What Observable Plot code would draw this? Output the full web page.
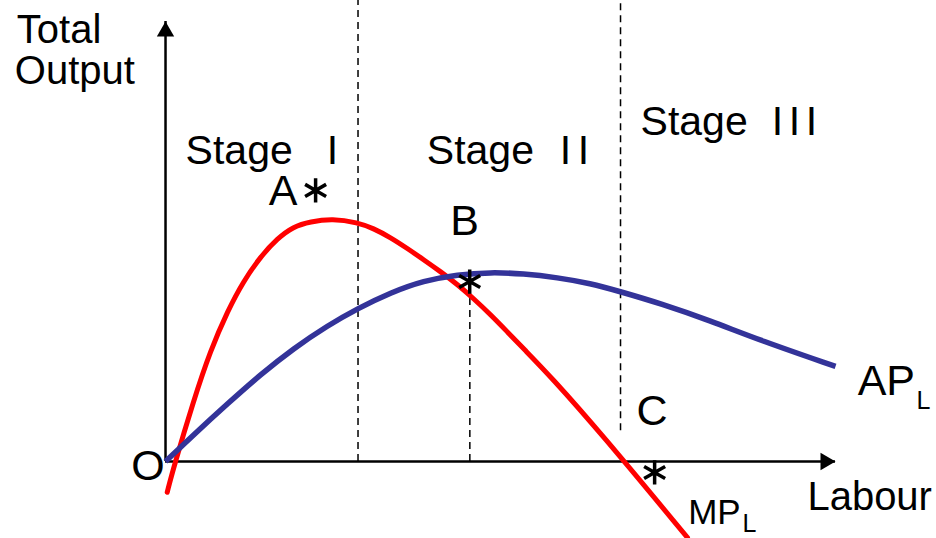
<!DOCTYPE html>
<html>
<head>
<meta charset="utf-8">
<script src="https://cdn.jsdelivr.net/npm/d3@7"></script>
<script src="https://cdn.jsdelivr.net/npm/@observablehq/plot@0.6"></script>
<style>
  html, body { margin: 0; padding: 0; background: #fff; }
</style>
</head>
<body>
<div id="chart"></div>
<script>
// Marginal product of labour (MP_L)
const mpX = [0.025, 0.12, 0.42, 0.67, 0.93, 1.16, 1.42, 1.67, 1.91, 2.16, 2.49, 2.87, 3.10, 3.36, 3.61, 3.85, 4.10, 4.36, 4.60, 4.85, 5.10, 5.34, 5.75, 6.49, 7.79];
const mpY = [-0.70, -0.14, 1.39, 2.52, 3.43, 4.09, 4.66, 5.07, 5.34, 5.45, 5.52, 5.43, 5.30, 5.09, 4.84, 4.59, 4.32, 4.02, 3.70, 3.34, 2.95, 2.57, 1.93, 0.66, -1.73];

// Average product of labour (AP_L)
const apX = [0, 0.42, 0.93, 1.42, 1.91, 2.42, 2.87, 3.36, 3.85, 4.36, 4.85, 5.34, 5.85, 6.34, 6.79, 7.39, 8.13, 8.88, 10.0];
const apY = [0, 0.61, 1.32, 1.98, 2.57, 3.09, 3.48, 3.84, 4.11, 4.25, 4.30, 4.27, 4.18, 4.05, 3.86, 3.59, 3.20, 2.75, 2.16];

// Stage boundaries (dashed lines)
const boundX  = [2.873, 4.542, 6.791];
const boundY1 = [0, 0, 0.70];
const boundY2 = [10.5, 4.09, 10.5];

// Marked points A, B, C
const pointNames = ["A", "B", "C"];
const pointX = [2.24, 4.54, 7.30];
const pointY = [6.16, 4.09, -0.25];

// Axis extent
const axisEndX = 10;
const axisEndY = 10;

// Text labels
const labelText = ["Total", "Output", "Stage", "I", "Stage", "I", "I", "Stage", "I", "I", "I", "A", "B", "C", "O", "AP", "Labour", "MP"];
const labelX    = [-2.22, -2.25, 0.30, 2.407, 3.90, 5.885, 6.154, 7.09, 9.049, 9.303, 9.557, 1.54, 4.25, 7.03, -0.51, 10.33, 9.58, 7.80];
const labelY    = [9.52, 8.59, 6.77, 6.77, 6.75, 6.75, 6.75, 7.41, 7.41, 7.41, 7.41, 5.82, 5.14, 0.82, -0.41, 1.50, -1.11, -1.41];
const labelSize = [40, 40, 41, 41, 41, 41, 41, 41, 41, 41, 41, 43, 43, 43, 43, 43, 40, 35];

const subText = ["L", "L"];
const subX = [11.21, 8.61];
const subY = [1.20, -1.61];

const mp = mpX.map((x, i) => ({x, y: mpY[i]}));
const ap = apX.map((x, i) => ({x, y: apY[i]}));
const bounds = boundX.map((x, i) => ({x, y1: boundY1[i], y2: boundY2[i]}));
const pts = pointNames.map((n, i) => ({n, x: pointX[i], y: pointY[i]}));
const labels = labelText.map((t, i) => ({t, x: labelX[i], y: labelY[i], s: labelSize[i]}));
const subs = subText.map((t, i) => ({t, x: subX[i], y: subY[i]}));

const font = "'Liberation Sans', Arial, Helvetica, sans-serif";

const textMarks = labels.map(d => Plot.text([d], {
  x: "x", y: "y", text: "t", textAnchor: "start", lineAnchor: "bottom",
  fontSize: d.s, fill: "black", fontFamily: font
}));

const chart = Plot.plot({
  width: 936,
  height: 538,
  margin: 0,
  x: {domain: [-2.463, 11.507], axis: null},
  y: {domain: [-1.75, 10.477], axis: null},
  style: {fontFamily: font, background: "white"},
  marks: [
    // stage boundaries
    Plot.ruleX(bounds, {x: "x", y1: "y1", y2: "y2", stroke: "black", strokeWidth: 1.5, strokeDasharray: "7,5"}),
    // axes
    Plot.ruleY([0], {x1: 0, x2: axisEndX, stroke: "black", strokeWidth: 2.5}),
    Plot.ruleX([0], {y1: 0, y2: axisEndY, stroke: "black", strokeWidth: 2.5}),
    Plot.dot([{x: 0, y: axisEndY}], {x: "x", y: "y", symbol: "triangle", r: 6.43, fill: "black", stroke: null, dy: 10}),
    Plot.dot([{x: axisEndX, y: 0}], {x: "x", y: "y", symbol: "triangle", r: 6.43, fill: "black", stroke: null, rotate: 90, dx: -10}),
    // curves
    Plot.line(mp, {x: "x", y: "y", stroke: "#ff0000", strokeWidth: 5, curve: "basis"}),
    Plot.line(ap, {x: "x", y: "y", stroke: "#333399", strokeWidth: 5.5, curve: "basis", strokeLinecap: "butt"}),
    // asterisks
    Plot.dot(pts, {x: "x", y: "y", symbol: "asterisk", r: 11.5, stroke: "black", strokeWidth: 3.5}),
    // labels
    ...textMarks,
    Plot.text(subs, {x: "x", y: "y", text: "t", textAnchor: "start", lineAnchor: "bottom", fontSize: 25, fill: "black", fontFamily: font})
  ]
});

document.getElementById("chart").appendChild(chart);
</script>
</body>
</html>
